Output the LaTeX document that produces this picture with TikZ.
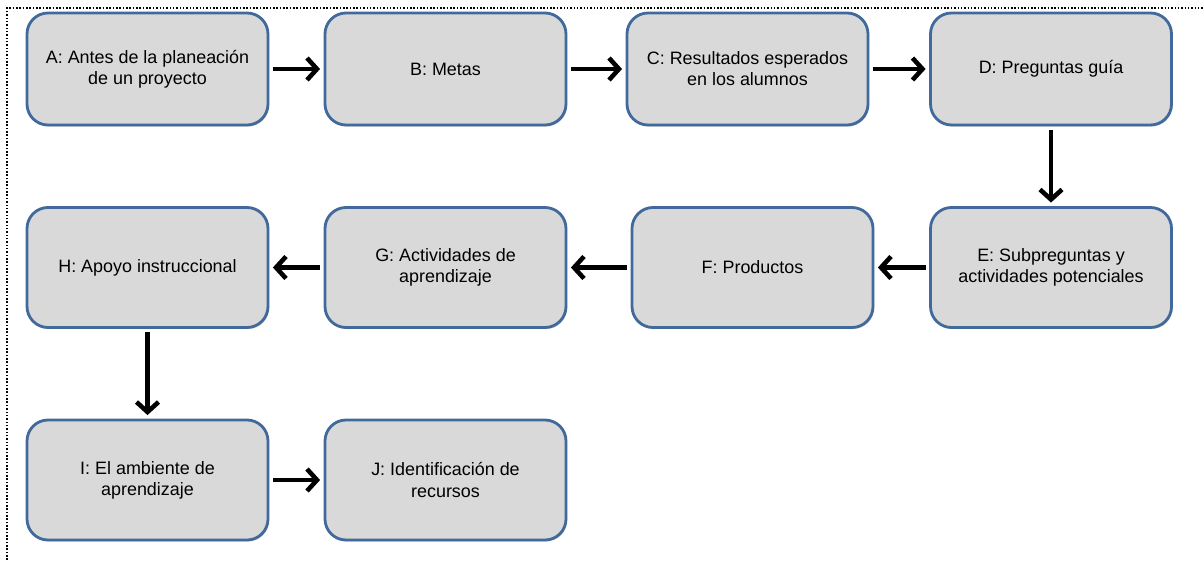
\documentclass[tikz,border=0pt]{standalone}
\usepackage{fontspec}
\setmainfont{Liberation Sans}
\usetikzlibrary{positioning,arrows.meta,shadows}

\definecolor{boxfill}{HTML}{D9D9D9}
\definecolor{boxline}{HTML}{41699B}

\begin{document}
\begin{tikzpicture}[node distance=5.96cm,on grid,
   phase/.style={draw=boxline,line width=1.6pt,fill=boxfill,rounded corners=0.42cm,
      minimum width=4.82cm,minimum height=2.4cm,align=center,
      font=\fontsize{10.2}{12}\selectfont,
      drop shadow={shadow xshift=0.6pt,shadow yshift=-0.9pt,opacity=0.35}},
   flow/.style={-{Straight Barb[length=2mm,width=4.4mm]},line width=2.6pt,
      shorten >=2pt,shorten <=2pt}]
   \useasboundingbox (0,0) rectangle (24.08,-11.2);
   \draw[densely dotted,line width=0.9pt] (0.14,-11.2) -- (0.14,-0.16) -- (24.08,-0.16);

   \node[phase,minimum height=2.24cm] (antes) at (2.95,-1.38) {A: Antes de la planeación\\de un proyecto};
   \node[phase,minimum height=2.24cm] (metas) [right=of antes] {B: Metas};
   \node[phase,minimum height=2.24cm] (resultados) [right=6.04cm of metas] {C: Resultados esperados\\en los alumnos};
   \node[phase,minimum height=2.24cm] (preguntas) [right=6.07cm of resultados] {D: Preguntas guía};
   \node[phase] (subpreguntas) [below=3.97cm of preguntas] {E: Subpreguntas y\\actividades potenciales};
   \node[phase] (productos) [left=5.97cm of subpreguntas] {F: Productos};
   \node[phase] (actividades) [left=6.14cm of productos] {G: Actividades de\\aprendizaje};
   \node[phase] (apoyo) [left=of actividades] {H: Apoyo instruccional};
   \node[phase] (ambiente) [below=4.25cm of apoyo] {I: El ambiente de\\aprendizaje};
   \node[phase] (recursos) [right=of ambiente] {J: Identificación de\\recursos};

   \path[flow]
    (antes) edge (metas)
    (metas) edge (resultados)
    (resultados) edge (preguntas)
    (preguntas) edge (subpreguntas)
    (subpreguntas) edge (productos)
    (productos) edge (actividades)
    (actividades) edge (apoyo)
    (apoyo) edge (ambiente)
    (ambiente) edge (recursos);
\end{tikzpicture}
\end{document}
